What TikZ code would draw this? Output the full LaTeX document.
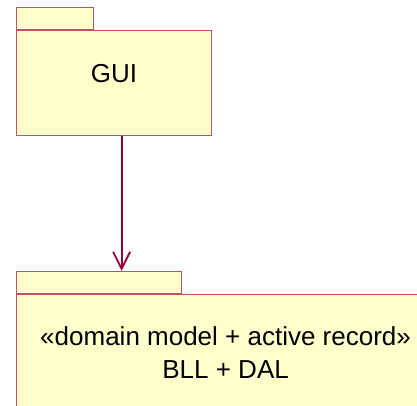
\documentclass[tikz,border=0pt]{standalone}
\usepackage{fontspec}
\setmainfont{Liberation Sans}
\usetikzlibrary{positioning,arrows.meta}
\definecolor{pkgborder}{RGB}{190,80,110}
\definecolor{pkgfill}{RGB}{255,255,204}
\definecolor{depcolor}{RGB}{150,0,60}
\tikzset{
    pkgtab/.style={draw=pkgborder, fill=pkgfill, line width=1.2pt, inner sep=0pt, minimum height=22pt},
    pkgbody/.style={draw=pkgborder, fill=pkgfill, line width=1.2pt, inner sep=0pt, align=center, font=\fontsize{26}{33}\selectfont},
    deparrow/.style={draw=depcolor, line width=1.8pt, -{Straight Barb[length=17pt,width=17pt]}}
}

\begin{document}
\begin{tikzpicture}[x=1pt,y=-1pt]
    \useasboundingbox (0,0) rectangle (417,405);
    \clip (0,0) rectangle (417,405);
    \node[pkgbody, anchor=north west, minimum width=195pt, text height=52pt, text depth=53pt] (gui) at (16,30) {GUI};
    \node[pkgtab, minimum width=77pt, above right=0pt and 0pt of gui.north west] (guiTab) {};
    \node[pkgbody, anchor=north west, minimum width=418pt, text height=84pt, text depth=40pt] (dal) at (16,294) {«domain model + active record»\\BLL + DAL};
    \node[pkgtab, minimum width=165pt, above right=0pt and 0pt of dal.north west] (dalTab) {};

    \draw[deparrow] ([xshift=7.5pt]gui.south) -- ([xshift=7.5pt]gui.south |- dalTab.north);
\end{tikzpicture}
\end{document}
